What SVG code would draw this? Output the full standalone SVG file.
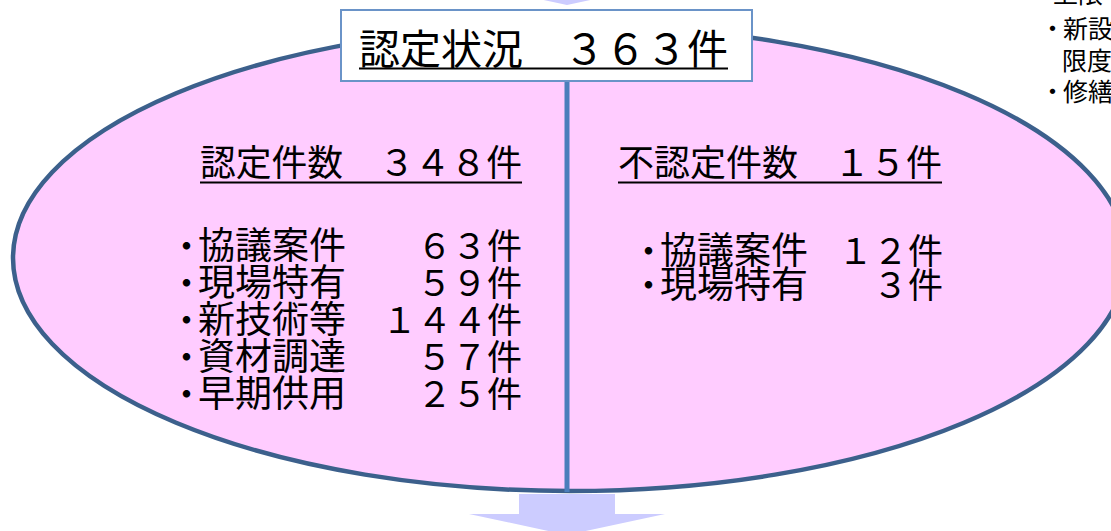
<svg xmlns="http://www.w3.org/2000/svg" width="1111" height="531" viewBox="0 0 1111 531">
<style>
.t{font-family:"Noto Sans CJK JP","Noto Sans CJK SC",sans-serif;fill:#000}
.h{font-size:36px}
.i{font-size:35px}
.l{font-size:37px}
.s{font-size:25px}
.u{stroke:#000;stroke-width:2}
</style>
<defs>
<path id="arrow" d="M-48,0 H48 V20 H98 L0,41 L-98,20 H-48 Z" fill="#CCCCFF"/>
</defs>
<g id="connectors">
<use href="#arrow" x="567" y="-36"/>
<use href="#arrow" x="567" y="494"/>
</g>
<g id="ellipse">
<ellipse cx="570" cy="258" rx="557" ry="233" fill="#FFCCFF" stroke="#3C608C" stroke-width="4.5"/>
<line x1="567" y1="80" x2="567" y2="492" stroke="#4A7EBB" stroke-width="5"/>
</g>
<g id="title">
<rect x="341" y="10" width="411" height="71" fill="#FFFFFF" stroke="#6A93C8" stroke-width="2"/>
<text class="t" x="359" y="64" font-size="41" textLength="369" lengthAdjust="spacingAndGlyphs">認定状況　３６３件</text>
<line class="u" x1="359" y1="68.5" x2="728" y2="68.5"/>
</g>
<g id="approved">
<text class="t h" x="200" y="176" textLength="322" lengthAdjust="spacingAndGlyphs">認定件数　３４８件</text>
<line class="u" x1="200" y1="182.5" x2="522" y2="182.5"/>
<g class="t i">
<text x="169" y="259">・<tspan class="l" dx="-6">協議案件</tspan></text><text x="522" y="259" text-anchor="end">６３件</text>
<text x="169" y="296">・<tspan class="l" dx="-6">現場特有</tspan></text><text x="522" y="296" text-anchor="end">５９件</text>
<text x="169" y="333">・<tspan class="l" dx="-6">新技術等</tspan></text><text x="522" y="333" text-anchor="end">１４４件</text>
<text x="169" y="370">・<tspan class="l" dx="-6">資材調達</tspan></text><text x="522" y="370" text-anchor="end">５７件</text>
<text x="169" y="407">・<tspan class="l" dx="-6">早期供用</tspan></text><text x="522" y="407" text-anchor="end">２５件</text>
</g>
</g>
<g id="rejected">
<text class="t h" x="618" y="176" textLength="324" lengthAdjust="spacingAndGlyphs">不認定件数　１５件</text>
<line class="u" x1="618" y1="182.5" x2="942" y2="182.5"/>
<g class="t i">
<text x="631" y="264">・<tspan class="l" dx="-6">協議案件</tspan></text><text x="943" y="264" text-anchor="end">１２件</text>
<text x="631" y="298">・<tspan class="l" dx="-6">現場特有</tspan></text><text x="943" y="298" text-anchor="end">３件</text>
</g>
</g>
<g id="note" class="t s">
<text x="1053" y="3">上限</text>
<text x="1040" y="38">・<tspan dx="-2">新設</tspan></text>
<text x="1062" y="70">限度</text>
<text x="1040" y="101">・<tspan dx="-2">修繕</tspan></text>
</g>
</svg>
